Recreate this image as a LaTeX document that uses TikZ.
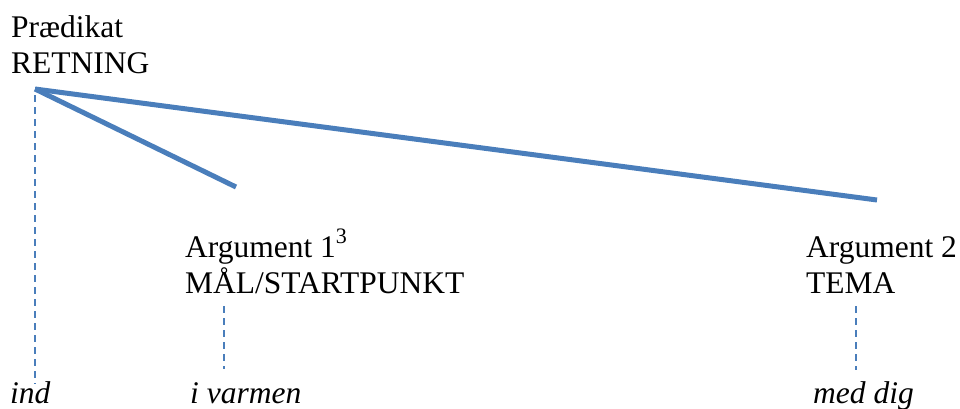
\documentclass[tikz,border=0pt]{standalone}
\usepackage{fontspec}
\setmainfont{Liberation Serif}
\definecolor{lineblue}{HTML}{4A7EBB}
\tikzset{
  lbl/.style={anchor=base west, inner sep=0pt, font=\fontsize{31.5}{36}\selectfont, align=left},
  itlbl/.style={lbl, font=\fontsize{31.5}{36}\selectfont\itshape},
  solidline/.style={draw=lineblue, line width=5pt},
  dashline/.style={draw=lineblue, line width=2pt, dash pattern=on 7pt off 5pt}
}
\begin{document}
\begin{tikzpicture}[x=1pt,y=-1pt]
\useasboundingbox (0,0) rectangle (960,408);
\node[lbl] (pred) at (11,37) {Prædikat};
\node[lbl] (retn) at (11,73) {RETNING};
\node[lbl] (arg1) at (185,257) {Argument 1\raisebox{4pt}{\textsuperscript{3}}};
\node[lbl] (mal) at (185,293) {MÅL/STARTPUNKT};
\node[lbl] (arg2) at (806,257) {Argument 2};
\node[lbl] (tema) at (806,293) {TEMA};
\node[itlbl] (ind) at (10,403) {ind};
\node[itlbl] (ivarm) at (190,403) {i varmen};
\node[itlbl] (med) at (813,403) {med dig};
\coordinate (root) at (35,89);
\coordinate (end1) at (236,187);
\coordinate (end2) at (877,200);
\coordinate (d1a) at (35,95);
\coordinate (d1b) at (35,384);
\coordinate (d2a) at (224,306);
\coordinate (d2b) at (224,369);
\coordinate (d3a) at (856,306);
\coordinate (d3b) at (856,370);
\draw[solidline] (root) -- (end1);
\draw[solidline] (root) -- (end2);
\draw[dashline] (d1a) -- (d1b);
\draw[dashline] (d2a) -- (d2b);
\draw[dashline] (d3a) -- (d3b);
\end{tikzpicture}
\end{document}
